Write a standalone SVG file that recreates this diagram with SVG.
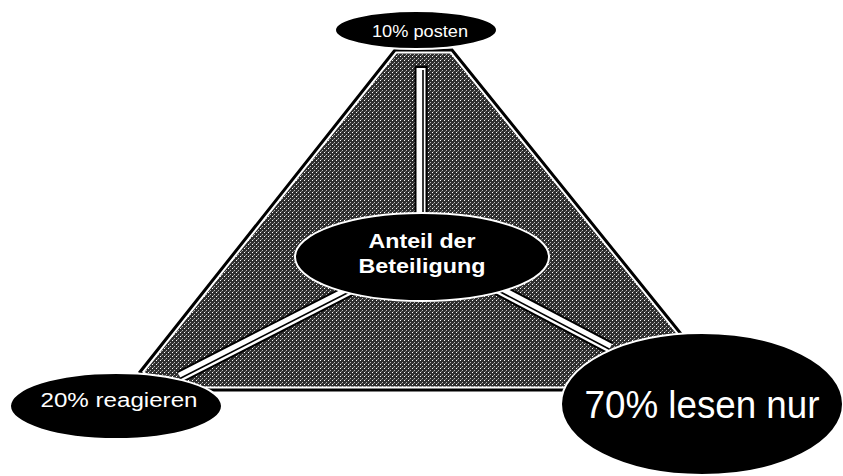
<svg xmlns="http://www.w3.org/2000/svg" width="843" height="476" viewBox="0 0 843 476">
<defs>
<pattern id="dots" width="4" height="4" patternUnits="userSpaceOnUse">
<rect width="4" height="4" fill="#2e2e2e"/>
<rect x="0" y="0" width="1" height="1" fill="#fff"/>
<rect x="2" y="2" width="1" height="1" fill="#bbb"/>
<rect x="1" y="3" width="1" height="1" fill="#777"/>
</pattern>
<clipPath id="triClip"><polygon points="395,50 452,50 690,345 690,390 158,390 140,372"/></clipPath>
</defs>
<style>
.ell{fill:#000;stroke:#fff;stroke-width:2}
.lbl{font-family:"Liberation Sans",Arial,sans-serif;fill:#fff;text-anchor:middle}
.c1{stroke:#000;stroke-width:13;stroke-linecap:butt;fill:none}
.c2{stroke:#fff;stroke-width:9;fill:none}
.c3{stroke:#000;stroke-width:1.6;fill:none}
</style>
<rect width="843" height="476" fill="#fff"/>
<g id="triangle">
<polygon points="395,50 452,50 690,345 690,390 158,390 140,372" fill="url(#dots)"/>
<polygon points="395,50 452,50 690,345 690,390 158,390 140,372" fill="none" stroke="#fff" stroke-width="7" clip-path="url(#triClip)"/>
<polygon points="395,50 452,50 690,345 690,390 158,390 140,372" fill="none" stroke="#000" stroke-width="3"/>
</g>
<g id="connectors">
<path class="c1" d="M421,66 V230"/>
<path class="c2" d="M421,68 V230"/>
<path class="c3" d="M423,70 V230"/>
<path class="c1" d="M360,285 L180,377"/>
<path class="c2" d="M360,285 L180,377"/>
<path class="c3" d="M360,286.5 L180,378.5"/>
<path class="c1" d="M490,285 L610,348"/>
<path class="c2" d="M490,285 L610,348"/>
<path class="c3" d="M490,286.5 L610,349.5"/>
</g>
<g id="node-top">
<ellipse class="ell" cx="416" cy="30" rx="81" ry="19"/>
<text class="lbl" x="420" y="37" font-size="16" textLength="96" lengthAdjust="spacingAndGlyphs">10% posten</text>
</g>
<g id="node-center">
<ellipse class="ell" cx="422" cy="257" rx="127" ry="44"/>
<text class="lbl" x="422" y="248" font-size="21" font-weight="bold" textLength="107" lengthAdjust="spacingAndGlyphs">Anteil der</text>
<text class="lbl" x="422" y="273" font-size="21" font-weight="bold" textLength="127" lengthAdjust="spacingAndGlyphs">Beteiligung</text>
</g>
<g id="node-left">
<ellipse class="ell" cx="116" cy="406" rx="106" ry="33"/>
<text class="lbl" x="119" y="407" font-size="20" textLength="157" lengthAdjust="spacingAndGlyphs">20% reagieren</text>
</g>
<g id="node-right">
<ellipse class="ell" cx="702" cy="404" rx="141" ry="71"/>
<text class="lbl" x="702" y="418" font-size="38" textLength="235" lengthAdjust="spacingAndGlyphs">70% lesen nur</text>
</g>
</svg>
